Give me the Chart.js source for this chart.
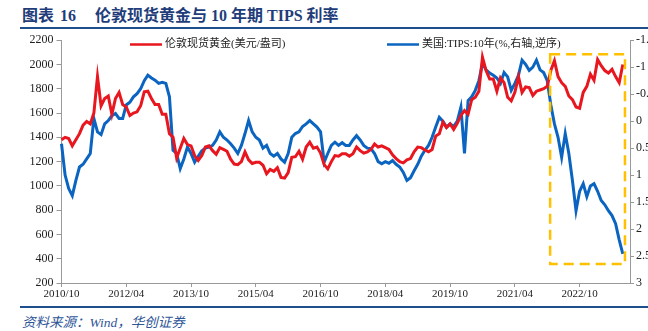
<!DOCTYPE html>
<html>
<head>
<meta charset="utf-8">
<script src="https://cdn.jsdelivr.net/npm/chart.js@4"></script>
<style>
  body { margin: 0; width: 648px; height: 331px; overflow: hidden; position: relative; background: #fff; }
  #title { position: absolute; left: 22px; top: 2px; font: bold 16px 'Liberation Serif', 'Noto Sans CJK SC', serif; color: #1f3d7a; white-space: nowrap; }
  #title .num { margin-left: 6px; margin-right: 19px; }
  #topLine { position: absolute; left: 20px; right: 0; top: 27px; height: 2px; background: #1f4e8c; }
  #chartBox { position: absolute; left: 0; top: 30px; width: 690px; height: 271px; }
  #bottomLine { position: absolute; left: 20px; right: 0; top: 306px; height: 1.5px; background: #1f4e8c; }
  #source { position: absolute; left: 22px; top: 311px; font: italic 13.5px 'Liberation Serif', 'Noto Sans CJK SC', serif; color: #2e5597; white-space: nowrap; }
</style>
</head>
<body>
<div id="title">图表<span class="num">16</span>伦敦现货黄金与 10 年期 TIPS 利率</div>
<div id="topLine"></div>
<div id="chartBox"><canvas id="lineChart" width="690" height="271"></canvas></div>
<div id="bottomLine"></div>
<div id="source">资料来源：Wind，华创证券</div>
<script>
// Eixo X: meses de 2010/10 até 2023/12
const months = [];
for (let y = 2010; y <= 2023; y++) {
    for (let m = 1; m <= 12; m++) {
        if (y === 2010 && m < 10) continue;
        months.push(y + '/' + String(m).padStart(2, '0'));
    }
}
const xTickLabels = ['2010/10', '2012/04', '2013/10', '2015/04', '2016/10', '2018/04', '2019/10', '2021/04', '2022/10'];

// Ouro spot Londres (USD/oz), mensal desde 2010/10
const goldPrice = [
    1380, 1400, 1390,
    1330, 1380, 1430, 1500, 1530, 1510, 1600, 1900, 1660, 1720, 1740, 1590,
    1720, 1770, 1670, 1650, 1580, 1600, 1610, 1660, 1775, 1780, 1720, 1670,
    1670, 1590, 1590, 1430, 1400, 1230, 1310, 1390, 1340, 1330, 1250, 1210,
    1250, 1320, 1330, 1290, 1260, 1315, 1300, 1285, 1220, 1180, 1175, 1200,
    1280, 1215, 1185, 1195, 1195, 1170, 1100, 1135, 1120, 1150, 1070, 1065,
    1110, 1235, 1240, 1285, 1220, 1320, 1360, 1310, 1320, 1270, 1175, 1140,
    1200, 1250, 1245, 1265, 1265, 1245, 1265, 1320, 1290, 1270, 1280, 1300,
    1345, 1320, 1330, 1315, 1300, 1255, 1225, 1200, 1190, 1215, 1225, 1280,
    1320, 1315, 1295, 1280, 1300, 1410, 1430, 1525, 1480, 1510, 1465, 1515,
    1580, 1620, 1590, 1710, 1730, 1780, 2060, 1950, 1880, 1880, 1780, 1890,
    1850, 1730, 1700, 1770, 1900, 1770, 1815, 1810, 1745, 1780, 1790, 1800,
    1820, 1950, 2030, 1900, 1850, 1820, 1740, 1710, 1650, 1640, 1770, 1820,
    1920, 1870, 2040, 1990, 1950, 1930, 1960, 1900, 1850, 2000
];

// TIPS 10 anos (%), eixo direito invertido
const tipsYield = [
    0.42, 1.0, 1.25,
    1.38, 1.1, 0.85, 0.8, 0.7, 0.6, -0.05, 0.2, 0.25, 0.05, -0.01, -0.1,
    -0.14, -0.05, -0.05, -0.3, -0.35, -0.45, -0.51, -0.6, -0.75, -0.85, -0.8, -0.76,
    -0.7, -0.72, -0.7, -0.45, 0.54, 0.6, 0.88, 0.7, 0.48, 0.6, 0.76, 0.65,
    0.55, 0.5, 0.48, 0.45, 0.35, 0.2, 0.3, 0.35, 0.42, 0.5, 0.6, 0.45,
    0.23, -0.01, 0.2, 0.3, 0.35, 0.5, 0.45, 0.6, 0.65, 0.6, 0.7, 0.76,
    0.6, 0.3, 0.23, 0.2, 0.1, 0.05, -0.01, 0.05, 0.11, 0.2, 0.76, 0.6,
    0.45, 0.39, 0.45, 0.4, 0.45, 0.45, 0.35, 0.27, 0.35, 0.45, 0.5, 0.51,
    0.6, 0.75, 0.79, 0.75, 0.78, 0.73, 0.8, 0.85, 0.95, 1.1, 1.05, 0.92,
    0.8, 0.65, 0.54, 0.45, 0.3, 0.11, -0.07, 0.0, 0.11, 0.05, 0.1, 0.0,
    -0.26, 0.6, -0.38, -0.45, -0.57, -0.75, -1.07, -0.95, -0.89, -0.85, -0.8, -0.7,
    -0.9, -0.82, -0.57, -0.7, -0.85, -1.13, -1.05, -0.94, -1.0, -1.13, -0.95, -0.9,
    -0.75, -0.3, 0.05, 0.3, 0.67, 0.23, 0.6, 1.1, 1.66, 1.3, 1.16, 1.4,
    1.2, 1.16, 1.3, 1.47, 1.55, 1.66, 1.75, 1.9, 2.2, 2.46
];

const goldLabel = '伦敦现货黄金(美元/盎司)';
const tipsLabel = '美国:TIPS:10年(%,右轴,逆序)';
const RED = '#e8161e';
const BLUE = '#0a64c0';
const AXIS = '#999999';

// Caixa tracejada (2022/01 a 2023/10)
const boxFrom = { x: 135.8, y: 2085 };
const boxTo = { x: 156.6, y: 356 };

const extras = {
    id: 'extras',
    afterDatasetsDraw(chart) {
        const c = chart.ctx;
        const sx = chart.scales.x, sy = chart.scales.y;
        c.save();
        // caixa
        c.strokeStyle = '#ffc000';
        c.lineWidth = 2.5;
        c.setLineDash([10, 6]);
        const x1 = sx.getPixelForValue(boxFrom.x), x2 = sx.getPixelForValue(boxTo.x);
        const y1 = sy.getPixelForValue(boxFrom.y), y2 = sy.getPixelForValue(boxTo.y);
        c.strokeRect(x1, y1, x2 - x1, y2 - y1);
        c.setLineDash([]);
        // legenda
        c.font = "11px 'Liberation Serif', 'Noto Sans CJK SC', serif";
        c.textBaseline = 'middle';
        c.fillStyle = '#222';
        const ly = 14.5;
        [[130, RED, goldLabel], [387, BLUE, tipsLabel]].forEach(([lx, col, txt]) => {
            c.strokeStyle = col;
            c.lineWidth = 2.5;
            c.beginPath();
            c.moveTo(lx, ly);
            c.lineTo(lx + 32, ly);
            c.stroke();
            c.fillText(txt, lx + 35, ly);
        });
        c.restore();
    }
};

const tickFont = { family: "'Liberation Serif', 'Times New Roman', serif", size: 12 };

const lineChartContext = document.getElementById('lineChart').getContext('2d');
const lineChart = new Chart(lineChartContext, {
    type: 'line',
    data: {
        labels: months,
        datasets: [{
            label: goldLabel,
            data: goldPrice,
            yAxisID: 'y',
            borderColor: RED,
            borderWidth: 3,
            pointRadius: 0,
            tension: 0
        }, {
            label: tipsLabel,
            data: tipsYield,
            yAxisID: 'y1',
            borderColor: BLUE,
            borderWidth: 3,
            pointRadius: 0,
            tension: 0
        }]
    },
    options: {
        responsive: false,
        animation: false,
        layout: { padding: { top: 10, left: 0, right: 0, bottom: 0 } },
        plugins: { legend: { display: false }, tooltip: { enabled: false } },
        scales: {
            x: {
                offset: false,
                grid: { drawOnChartArea: false, drawTicks: true, tickLength: 4, color: AXIS },
                border: { color: AXIS },
                ticks: {
                    autoSkip: false, maxRotation: 0, padding: 1, color: '#222',
                    font: { family: tickFont.family, size: 11 },
                    callback(v) {
                        const l = this.getLabelForValue(v);
                        return xTickLabels.includes(l) ? l : null;
                    }
                },
                afterFit(s) { s.height = 18; }
            },
            y: {
                position: 'left',
                min: 200, max: 2200,
                grid: { drawOnChartArea: false, tickLength: 5, color: AXIS },
                border: { color: AXIS },
                ticks: { stepSize: 200, padding: 3, color: '#222', font: tickFont, callback: v => String(v) },
                afterFit(s) { s.width = 61.5; }
            },
            y1: {
                position: 'right',
                reverse: true,
                min: -1.5, max: 3,
                grid: { drawOnChartArea: false, tickLength: 4, color: AXIS },
                border: { color: AXIS },
                ticks: { stepSize: 0.5, padding: 2, color: '#222', font: tickFont, callback: v => String(v) },
                afterFit(s) { s.width = 60; }
            }
        }
    },
    plugins: [extras]
});
</script>
</body>
</html>
